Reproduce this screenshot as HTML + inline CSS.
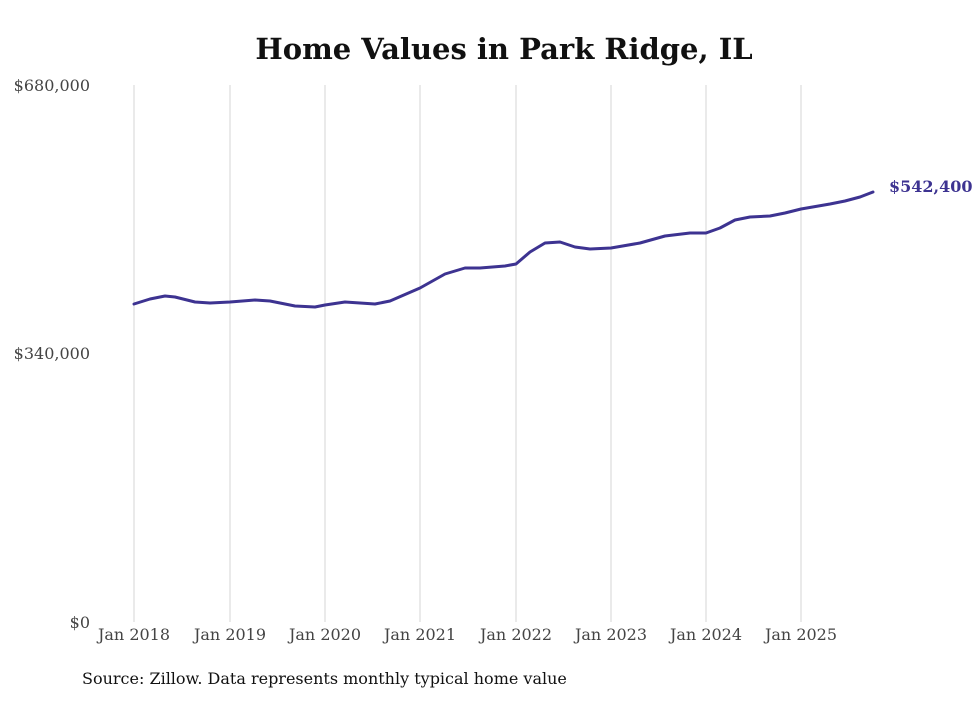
<!DOCTYPE html>
<html><head><style>body{margin:0;background:#fff}</style></head><body>
<svg width="980" height="699" xmlns="http://www.w3.org/2000/svg" font-family="DejaVu Serif, serif">
<rect width="980" height="699" fill="#fff"/>
<text x="504" y="59" text-anchor="middle" font-size="29" font-weight="bold" fill="#111">Home Values in Park Ridge, IL</text>
<g stroke="#cccccc" stroke-width="0.8">
<line x1="134" y1="85" x2="134" y2="622"/><line x1="230" y1="85" x2="230" y2="622"/><line x1="325" y1="85" x2="325" y2="622"/><line x1="420" y1="85" x2="420" y2="622"/><line x1="516" y1="85" x2="516" y2="622"/><line x1="611" y1="85" x2="611" y2="622"/><line x1="706" y1="85" x2="706" y2="622"/><line x1="801" y1="85" x2="801" y2="622"/>
</g>
<g font-size="16" fill="#444" text-anchor="end">
<text x="90" y="91">$680,000</text><text x="90" y="359">$340,000</text><text x="90" y="628">$0</text>
</g>
<g font-size="16" fill="#444" text-anchor="middle">
<text x="134" y="640">Jan 2018</text><text x="230" y="640">Jan 2019</text><text x="325" y="640">Jan 2020</text><text x="420" y="640">Jan 2021</text><text x="516" y="640">Jan 2022</text><text x="611" y="640">Jan 2023</text><text x="706" y="640">Jan 2024</text><text x="801" y="640">Jan 2025</text>
</g>
<polyline fill="none" stroke="#3d3391" stroke-width="3" stroke-linejoin="round" stroke-linecap="round" points="134,304 150,299 165,296 175,297 195,302 210,303 230,302 255,300 270,301 295,306 315,307 325,305 345,302 360,303 375,304 390,301 420,288 445,274 465,268 480,268 505,266 516,264 530,252 545,243 560,242 575,247 590,249 611,248 640,243 665,236 690,233 706,233 720,228 735,220 750,217 770,216 785,213 801,209 830,204 845,201 860,197 873,192"/>
<text x="889" y="192" font-size="16" font-weight="bold" fill="#3d3391">$542,400</text>
<text x="82" y="684" font-size="16" fill="#111">Source: Zillow. Data represents monthly typical home value</text>
</svg>
</body></html>
